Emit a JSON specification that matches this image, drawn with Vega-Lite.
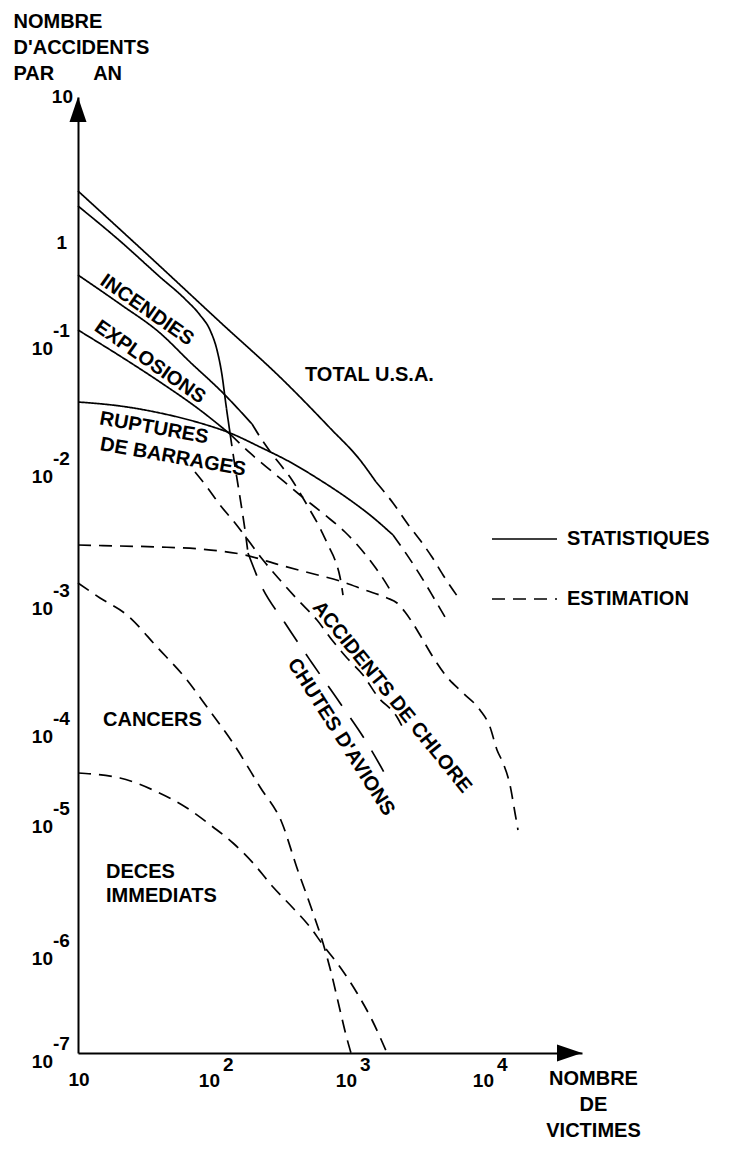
{
  "$schema": "https://vega.github.io/schema/vega-lite/v6.json",
  "width": 504,
  "height": 956,
  "autosize": {"type": "none"},
  "padding": {"left": 78, "top": 97, "right": 167, "bottom": 111},
  "background": "white",
  "config": {
    "view": {"stroke": null},
    "font": "Liberation Sans",
    "axis": {"labels": false, "ticks": false, "grid": false, "domainColor": "black", "domainWidth": 2,
      "titleFont": "Liberation Sans", "titleFontSize": 20, "titleFontWeight": "bold", "titleColor": "black", "titleLineHeight": 26}
  },
  "datasets": {
    "curves": [
      {"s":"TOTAL U.S.A.","t":"STATISTIQUES","n":10,"f":2.271},
      {"s":"TOTAL U.S.A.","t":"STATISTIQUES","n":33.54,"f":0.7173},
      {"s":"TOTAL U.S.A.","t":"STATISTIQUES","n":108.8,"f":0.1533},
      {"s":"TOTAL U.S.A.","t":"STATISTIQUES","n":313.6,"f":0.0487},
      {"s":"TOTAL U.S.A.","t":"STATISTIQUES","n":690.9,"f":0.02054},
      {"s":"TOTAL U.S.A.","t":"STATISTIQUES","n":1144,"f":0.01155},
      {"s":"TOTAL U.S.A.","t":"STATISTIQUES","n":1497,"f":0.007834},
      {"s":"TOTAL U.S.A.","t":"ESTIMATION","n":1497,"f":0.007834},
      {"s":"TOTAL U.S.A.","t":"ESTIMATION","n":1992,"f":0.005429},
      {"s":"TOTAL U.S.A.","t":"ESTIMATION","n":2521,"f":0.003831},
      {"s":"TOTAL U.S.A.","t":"ESTIMATION","n":3136,"f":0.002848},
      {"s":"TOTAL U.S.A.","t":"ESTIMATION","n":3836,"f":0.002117},
      {"s":"TOTAL U.S.A.","t":"ESTIMATION","n":4616,"f":0.001547},
      {"s":"TOTAL U.S.A.","t":"ESTIMATION","n":6142,"f":0.001},
      {"s":"CHUTES D'AVIONS","t":"STATISTIQUES","n":10,"f":1.792},
      {"s":"CHUTES D'AVIONS","t":"STATISTIQUES","n":20.26,"f":1.032},
      {"s":"CHUTES D'AVIONS","t":"STATISTIQUES","n":39.67,"f":0.4462},
      {"s":"CHUTES D'AVIONS","t":"STATISTIQUES","n":60.4,"f":0.2647},
      {"s":"CHUTES D'AVIONS","t":"STATISTIQUES","n":77.7,"f":0.181},
      {"s":"CHUTES D'AVIONS","t":"STATISTIQUES","n":91.93,"f":0.1268},
      {"s":"CHUTES D'AVIONS","t":"STATISTIQUES","n":103.4,"f":0.08352},
      {"s":"CHUTES D'AVIONS","t":"STATISTIQUES","n":112.5,"f":0.05328},
      {"s":"CHUTES D'AVIONS","t":"STATISTIQUES","n":120.3,"f":0.03106},
      {"s":"CHUTES D'AVIONS","t":"STATISTIQUES","n":128.7,"f":0.01877},
      {"s":"CHUTES D'AVIONS","t":"ESTIMATION","n":128.7,"f":0.01877},
      {"s":"CHUTES D'AVIONS","t":"ESTIMATION","n":137.6,"f":0.01155},
      {"s":"CHUTES D'AVIONS","t":"ESTIMATION","n":147.2,"f":0.007433},
      {"s":"CHUTES D'AVIONS","t":"ESTIMATION","n":157.4,"f":0.004805},
      {"s":"CHUTES D'AVIONS","t":"ESTIMATION","n":165.6,"f":0.003391},
      {"s":"CHUTES D'AVIONS","t":"ESTIMATION","n":174.1,"f":0.00227},
      {"s":"INCENDIES","t":"STATISTIQUES","n":10,"f":0.4677},
      {"s":"INCENDIES","t":"STATISTIQUES","n":20.26,"f":0.235},
      {"s":"INCENDIES","t":"STATISTIQUES","n":39.67,"f":0.1181},
      {"s":"INCENDIES","t":"STATISTIQUES","n":65.7,"f":0.06731},
      {"s":"INCENDIES","t":"STATISTIQUES","n":114.4,"f":0.03854},
      {"s":"INCENDIES","t":"STATISTIQUES","n":186.3,"f":0.02207},
      {"s":"INCENDIES","t":"ESTIMATION","n":186.3,"f":0.02207},
      {"s":"INCENDIES","t":"ESTIMATION","n":220.4,"f":0.01655},
      {"s":"INCENDIES","t":"ESTIMATION","n":260.7,"f":0.01286},
      {"s":"INCENDIES","t":"ESTIMATION","n":313.6,"f":0.01},
      {"s":"INCENDIES","t":"ESTIMATION","n":364.8,"f":0.008112},
      {"s":"INCENDIES","t":"ESTIMATION","n":417.2,"f":0.006465},
      {"s":"INCENDIES","t":"ESTIMATION","n":493.6,"f":0.004805},
      {"s":"INCENDIES","t":"ESTIMATION","n":584,"f":0.003511},
      {"s":"INCENDIES","t":"ESTIMATION","n":668.1,"f":0.00261},
      {"s":"INCENDIES","t":"ESTIMATION","n":751.5,"f":0.002009},
      {"s":"INCENDIES","t":"ESTIMATION","n":817.3,"f":0.001494},
      {"s":"INCENDIES","t":"ESTIMATION","n":859.6,"f":0.001091},
      {"s":"EXPLOSIONS","t":"STATISTIQUES","n":10,"f":0.1268},
      {"s":"EXPLOSIONS","t":"STATISTIQUES","n":20.26,"f":0.07499},
      {"s":"EXPLOSIONS","t":"STATISTIQUES","n":39.67,"f":0.04697},
      {"s":"EXPLOSIONS","t":"STATISTIQUES","n":77.7,"f":0.02838},
      {"s":"EXPLOSIONS","t":"STATISTIQUES","n":128.7,"f":0.01843},
      {"s":"EXPLOSIONS","t":"ESTIMATION","n":128.7,"f":0.01843},
      {"s":"EXPLOSIONS","t":"ESTIMATION","n":180.1,"f":0.0131},
      {"s":"EXPLOSIONS","t":"ESTIMATION","n":274.2,"f":0.009006},
      {"s":"EXPLOSIONS","t":"ESTIMATION","n":417.2,"f":0.006243},
      {"s":"EXPLOSIONS","t":"ESTIMATION","n":635.4,"f":0.004404},
      {"s":"EXPLOSIONS","t":"ESTIMATION","n":888.9,"f":0.003275},
      {"s":"EXPLOSIONS","t":"ESTIMATION","n":1144,"f":0.002476},
      {"s":"EXPLOSIONS","t":"ESTIMATION","n":1400,"f":0.001907},
      {"s":"EXPLOSIONS","t":"ESTIMATION","n":1656,"f":0.001494},
      {"s":"EXPLOSIONS","t":"ESTIMATION","n":1959,"f":0.00113},
      {"s":"RUPTURES DE BARRAGES","t":"STATISTIQUES","n":10,"f":0.03278},
      {"s":"RUPTURES DE BARRAGES","t":"STATISTIQUES","n":20.26,"f":0.03051},
      {"s":"RUPTURES DE BARRAGES","t":"STATISTIQUES","n":39.67,"f":0.0269},
      {"s":"RUPTURES DE BARRAGES","t":"STATISTIQUES","n":77.7,"f":0.02247},
      {"s":"RUPTURES DE BARRAGES","t":"STATISTIQUES","n":128.7,"f":0.01877},
      {"s":"RUPTURES DE BARRAGES","t":"STATISTIQUES","n":213.1,"f":0.01459},
      {"s":"RUPTURES DE BARRAGES","t":"STATISTIQUES","n":352.7,"f":0.01114},
      {"s":"RUPTURES DE BARRAGES","t":"STATISTIQUES","n":584,"f":0.008112},
      {"s":"RUPTURES DE BARRAGES","t":"STATISTIQUES","n":966.9,"f":0.005722},
      {"s":"RUPTURES DE BARRAGES","t":"STATISTIQUES","n":1353,"f":0.004404},
      {"s":"RUPTURES DE BARRAGES","t":"STATISTIQUES","n":1992,"f":0.003108},
      {"s":"RUPTURES DE BARRAGES","t":"ESTIMATION","n":1992,"f":0.003108},
      {"s":"RUPTURES DE BARRAGES","t":"ESTIMATION","n":2438,"f":0.00231},
      {"s":"RUPTURES DE BARRAGES","t":"ESTIMATION","n":2884,"f":0.001778},
      {"s":"RUPTURES DE BARRAGES","t":"ESTIMATION","n":3410,"f":0.001345},
      {"s":"RUPTURES DE BARRAGES","t":"ESTIMATION","n":4035,"f":0.001},
      {"s":"RUPTURES DE BARRAGES","t":"ESTIMATION","n":4774,"f":0.0007365},
      {"s":"CHUTES D'AVIONS (AU SOL)","t":"ESTIMATION","n":71.45,"f":0.009326},
      {"s":"CHUTES D'AVIONS (AU SOL)","t":"ESTIMATION","n":87.4,"f":0.007179},
      {"s":"CHUTES D'AVIONS (AU SOL)","t":"ESTIMATION","n":108.8,"f":0.005245},
      {"s":"CHUTES D'AVIONS (AU SOL)","t":"ESTIMATION","n":140,"f":0.003831},
      {"s":"CHUTES D'AVIONS (AU SOL)","t":"ESTIMATION","n":174.1,"f":0.002848},
      {"s":"CHUTES D'AVIONS (AU SOL)","t":"ESTIMATION","n":224.1,"f":0.002009},
      {"s":"CHUTES D'AVIONS (AU SOL)","t":"ESTIMATION","n":298.2,"f":0.001417},
      {"s":"CHUTES D'AVIONS (AU SOL)","t":"ESTIMATION","n":403.4,"f":0.001},
      {"s":"CHUTES D'AVIONS (AU SOL)","t":"ESTIMATION","n":555.3,"f":0.0006977},
      {"s":"CHUTES D'AVIONS (AU SOL)","t":"ESTIMATION","n":714.5,"f":0.000487},
      {"s":"CHUTES D'AVIONS (AU SOL)","t":"ESTIMATION","n":919.3,"f":0.0003523},
      {"s":"CHUTES D'AVIONS (AU SOL)","t":"ESTIMATION","n":1203,"f":0.0002595},
      {"s":"CHUTES D'AVIONS (AU SOL)","t":"ESTIMATION","n":1548,"f":0.0001747},
      {"s":"CHUTES D'AVIONS (AU SOL)","t":"ESTIMATION","n":2131,"f":0.0001219},
      {"s":"CHUTES D'AVIONS (AU SOL)","t":"ESTIMATION","n":2357,"f":0.0001},
      {"s":"ACCIDENTS DE CHLORE","t":"ESTIMATION","n":10,"f":0.00261},
      {"s":"ACCIDENTS DE CHLORE","t":"ESTIMATION","n":20.26,"f":0.002565},
      {"s":"ACCIDENTS DE CHLORE","t":"ESTIMATION","n":39.67,"f":0.002521},
      {"s":"ACCIDENTS DE CHLORE","t":"ESTIMATION","n":77.7,"f":0.002434},
      {"s":"ACCIDENTS DE CHLORE","t":"ESTIMATION","n":165.6,"f":0.002192},
      {"s":"ACCIDENTS DE CHLORE","t":"ESTIMATION","n":298.2,"f":0.001842},
      {"s":"ACCIDENTS DE CHLORE","t":"ESTIMATION","n":493.6,"f":0.001601},
      {"s":"ACCIDENTS DE CHLORE","t":"ESTIMATION","n":817.3,"f":0.001393},
      {"s":"ACCIDENTS DE CHLORE","t":"ESTIMATION","n":1244,"f":0.001191},
      {"s":"ACCIDENTS DE CHLORE","t":"ESTIMATION","n":1801,"f":0.001036},
      {"s":"ACCIDENTS DE CHLORE","t":"ESTIMATION","n":2131,"f":0.0009475},
      {"s":"ACCIDENTS DE CHLORE","t":"ESTIMATION","n":2438,"f":0.0008058},
      {"s":"ACCIDENTS DE CHLORE","t":"ESTIMATION","n":2742,"f":0.0006732},
      {"s":"ACCIDENTS DE CHLORE","t":"ESTIMATION","n":3136,"f":0.0005328},
      {"s":"ACCIDENTS DE CHLORE","t":"ESTIMATION","n":3901,"f":0.0003587},
      {"s":"ACCIDENTS DE CHLORE","t":"ESTIMATION","n":4936,"f":0.0002503},
      {"s":"ACCIDENTS DE CHLORE","t":"ESTIMATION","n":6459,"f":0.0001877},
      {"s":"ACCIDENTS DE CHLORE","t":"ESTIMATION","n":8597,"f":0.0001382},
      {"s":"ACCIDENTS DE CHLORE","t":"ESTIMATION","n":10170,"f":0.0001018},
      {"s":"ACCIDENTS DE CHLORE","t":"ESTIMATION","n":11440,"f":0.00005696},
      {"s":"ACCIDENTS DE CHLORE","t":"ESTIMATION","n":12660,"f":0.00004084},
      {"s":"ACCIDENTS DE CHLORE","t":"ESTIMATION","n":14230,"f":0.00002326},
      {"s":"ACCIDENTS DE CHLORE","t":"ESTIMATION","n":15480,"f":0.00001137},
      {"s":"ACCIDENTS DE CHLORE","t":"ESTIMATION","n":16280,"f":0.000008111},
      {"s":"CANCERS","t":"ESTIMATION","n":10,"f":0.001345},
      {"s":"CANCERS","t":"ESTIMATION","n":14.48,"f":0.001036},
      {"s":"CANCERS","t":"ESTIMATION","n":22.79,"f":0.0007634},
      {"s":"CANCERS","t":"ESTIMATION","n":37.72,"f":0.0004294},
      {"s":"CANCERS","t":"ESTIMATION","n":62.46,"f":0.0002371},
      {"s":"CANCERS","t":"ESTIMATION","n":87.4,"f":0.0001459},
      {"s":"CANCERS","t":"ESTIMATION","n":135.3,"f":0.00006813},
      {"s":"CANCERS","t":"ESTIMATION","n":213.1,"f":0.0000221},
      {"s":"CANCERS","t":"ESTIMATION","n":308.4,"f":0.000009165},
      {"s":"CANCERS","t":"ESTIMATION","n":396.7,"f":0.00000418},
      {"s":"CANCERS","t":"ESTIMATION","n":510.5,"f":0.000002009},
      {"s":"CANCERS","t":"ESTIMATION","n":614.1,"f":0.00000113},
      {"s":"CANCERS","t":"ESTIMATION","n":702.6,"f":6.113e-7},
      {"s":"CANCERS","t":"ESTIMATION","n":817.3,"f":2.615e-7},
      {"s":"CANCERS","t":"ESTIMATION","n":904,"f":1.495e-7},
      {"s":"CANCERS","t":"ESTIMATION","n":983.3,"f":1e-7},
      {"s":"DECES IMMEDIATS","t":"ESTIMATION","n":10,"f":3.162e-5},
      {"s":"DECES IMMEDIATS","t":"ESTIMATION","n":20.26,"f":2.783e-5},
      {"s":"DECES IMMEDIATS","t":"ESTIMATION","n":35.27,"f":2.047e-5},
      {"s":"DECES IMMEDIATS","t":"ESTIMATION","n":62.46,"f":1.291e-5},
      {"s":"DECES IMMEDIATS","t":"ESTIMATION","n":96.69,"f":8.548e-6},
      {"s":"DECES IMMEDIATS","t":"ESTIMATION","n":135.3,"f":6.465e-6},
      {"s":"DECES IMMEDIATS","t":"ESTIMATION","n":189.4,"f":4.562e-6},
      {"s":"DECES IMMEDIATS","t":"ESTIMATION","n":265.1,"f":3.001e-6},
      {"s":"DECES IMMEDIATS","t":"ESTIMATION","n":370.9,"f":2.08e-6},
      {"s":"DECES IMMEDIATS","t":"ESTIMATION","n":493.6,"f":1.494e-6},
      {"s":"DECES IMMEDIATS","t":"ESTIMATION","n":614.1,"f":1.091e-6},
      {"s":"DECES IMMEDIATS","t":"ESTIMATION","n":817.3,"f":6.839e-7},
      {"s":"DECES IMMEDIATS","t":"ESTIMATION","n":1088,"f":3.824e-7},
      {"s":"DECES IMMEDIATS","t":"ESTIMATION","n":1400,"f":2.091e-7},
      {"s":"DECES IMMEDIATS","t":"ESTIMATION","n":1801,"f":1e-7}
    ],
    "chutes": [
      {"s":"CHUTES D'AVIONS","t":"ESTIMATION","n":174.1,"f":0.00227},
      {"s":"CHUTES D'AVIONS","t":"ESTIMATION","n":213.1,"f":0.001345},
      {"s":"CHUTES D'AVIONS","t":"ESTIMATION","n":324.3,"f":0.0006612},
      {"s":"CHUTES D'AVIONS","t":"ESTIMATION","n":510.5,"f":0.000322},
      {"s":"CHUTES D'AVIONS","t":"ESTIMATION","n":817.3,"f":0.0001568},
      {"s":"CHUTES D'AVIONS","t":"ESTIMATION","n":1287,"f":0.00006813},
      {"s":"CHUTES D'AVIONS","t":"ESTIMATION","n":1894,"f":0.00002448}
    ],
    "notes": [
      {"label":"TOTAL U.S.A.","n":453.9,"f":0.05328},
      {"label":"CANCERS","n":15.22,"f":0.0001155},
      {"label":"DECES","n":16.01,"f":0.000003898},
      {"label":"IMMEDIATS","n":16.01,"f":0.000002565},
      {"label":"INCENDIES","n":31.89,"f":0.2038},
      {"label":"EXPLOSIONS","n":33.54,"f":0.06731},
      {"label":"RUPTURES","n":35.87,"f":0.02054},
      {"label":"DE BARRAGES","n":49.36,"f":0.01219},
      {"label":"ACCIDENTS DE CHLORE","n":1959,"f":0.0001747},
      {"label":"CHUTES D'AVIONS","n":831,"f":0.00007943}
    ],
    "yexp": [
      {"n":10,"f":1e-7,"exp":"-7"},{"n":10,"f":1e-6,"exp":"-6"},{"n":10,"f":1e-5,"exp":"-5"},{"n":10,"f":1e-4,"exp":"-4"},
      {"n":10,"f":1e-3,"exp":"-3"},{"n":10,"f":1e-2,"exp":"-2"},{"n":10,"f":1e-1,"exp":"-1"}
    ],
    "yplain": [{"n":10,"f":1,"t":"1"},{"n":10,"f":10,"t":"10"}],
    "xexp": [{"n":100,"f":1e-7,"exp":"2"},{"n":1000,"f":1e-7,"exp":"3"},{"n":10000,"f":1e-7,"exp":"4"}],
    "xplain": [{"n":10,"f":1e-7,"t":"10"}],
    "arrows": [{"dir":"up","n":10,"f":10},{"dir":"right","n":47730,"f":1e-7}]
  },
  "layer": [
    {
      "data": {"name": "curves"},
      "mark": {"type": "line", "color": "black", "strokeWidth": 1.7, "interpolate": "monotone"},
      "encoding": {
        "x": {"field": "n", "type": "quantitative",
          "scale": {"type": "log", "domain": [10, 47730], "nice": false},
          "axis": {"title": ["NOMBRE", "DE", "VICTIMES"], "titleAngle": 0, "titleAlign": "center", "titleBaseline": "top",
            "titleX": 515, "titleY": 15}},
        "y": {"field": "f", "type": "quantitative",
          "scale": {"type": "log", "domain": [1e-7, 1e-6, 1e-5, 1e-4, 1e-3, 1e-2, 1e-1, 1, 10],
            "range": [956, 853, 721, 631, 503, 371, 243, 146, 0], "nice": false},
          "axis": {"title": ["NOMBRE", "D'ACCIDENTS", "PAR\u00a0\u00a0\u00a0\u00a0\u00a0\u00a0\u00a0AN"], "titleAngle": 0, "titleAlign": "left",
            "titleBaseline": "top", "titleX": -65, "titleY": -86}},
        "detail": {"field": "s"},
        "strokeDash": {"field": "t", "type": "nominal",
          "scale": {"domain": ["STATISTIQUES", "ESTIMATION"], "range": [[1, 0], [13, 8]]},
          "legend": {"orient": "none", "legendX": 413, "legendY": 432, "title": null, "symbolType": "stroke",
            "symbolSize": 4225, "symbolStrokeWidth": 1.7, "symbolStrokeColor": "black", "labelFont": "Liberation Sans",
            "labelFontSize": 20, "labelFontWeight": "bold", "labelColor": "black", "labelOffset": 9,
            "rowPadding": 40, "clipHeight": 20, "padding": 0}}
      }
    },
    {
      "data": {"name": "chutes"},
      "mark": {"type": "line", "color": "black", "strokeWidth": 1.7, "strokeDash": [24, 15], "interpolate": "monotone"},
      "encoding": {
        "x": {"field": "n", "type": "quantitative"},
        "y": {"field": "f", "type": "quantitative"}
      }
    },
    {
      "data": {"name": "arrows"},
      "transform": [{"filter": "datum.dir == 'up'"}],
      "mark": {"type": "point", "shape": "M0,0L0.68,2L-0.68,2Z", "size": 625, "filled": true, "color": "black", "opacity": 1, "strokeWidth": 0},
      "encoding": {
        "x": {"field": "n", "type": "quantitative"},
        "y": {"field": "f", "type": "quantitative"}
      }
    },
    {
      "data": {"name": "arrows"},
      "transform": [{"filter": "datum.dir == 'right'"}],
      "mark": {"type": "point", "shape": "M0,0L-2,-0.68L-2,0.68Z", "size": 625, "filled": true, "color": "black", "opacity": 1, "strokeWidth": 0},
      "encoding": {
        "x": {"field": "n", "type": "quantitative"},
        "y": {"field": "f", "type": "quantitative"}
      }
    },
    {
      "data": {"name": "yexp"},
      "mark": {"type": "text", "align": "right", "baseline": "middle", "dx": -25, "dy": 9, "font": "Liberation Sans", "fontSize": 19, "fontWeight": "bold", "color": "black"},
      "encoding": {
        "x": {"field": "n", "type": "quantitative"},
        "y": {"field": "f", "type": "quantitative"},
        "text": {"value": "10"}
      }
    },
    {
      "data": {"name": "yexp"},
      "mark": {"type": "text", "align": "left", "baseline": "middle", "dx": -25, "dy": -9, "font": "Liberation Sans", "fontSize": 19, "fontWeight": "bold", "color": "black"},
      "encoding": {
        "x": {"field": "n", "type": "quantitative"},
        "y": {"field": "f", "type": "quantitative"},
        "text": {"field": "exp"}
      }
    },
    {
      "data": {"name": "yplain"},
      "transform": [{"filter": "datum.f == 1"}],
      "mark": {"type": "text", "align": "right", "baseline": "middle", "dx": -11, "font": "Liberation Sans", "fontSize": 19, "fontWeight": "bold", "color": "black"},
      "encoding": {
        "x": {"field": "n", "type": "quantitative"},
        "y": {"field": "f", "type": "quantitative"},
        "text": {"field": "t"}
      }
    },
    {
      "data": {"name": "yplain"},
      "transform": [{"filter": "datum.f == 10"}],
      "mark": {"type": "text", "align": "right", "baseline": "middle", "dx": -5, "font": "Liberation Sans", "fontSize": 19, "fontWeight": "bold", "color": "black"},
      "encoding": {
        "x": {"field": "n", "type": "quantitative"},
        "y": {"field": "f", "type": "quantitative"},
        "text": {"field": "t"}
      }
    },
    {
      "data": {"name": "xplain"},
      "mark": {"type": "text", "align": "center", "baseline": "middle", "dx": 1, "dy": 27, "font": "Liberation Sans", "fontSize": 19, "fontWeight": "bold", "color": "black"},
      "encoding": {
        "x": {"field": "n", "type": "quantitative"},
        "y": {"field": "f", "type": "quantitative"},
        "text": {"field": "t"}
      }
    },
    {
      "data": {"name": "xexp"},
      "mark": {"type": "text", "align": "right", "baseline": "middle", "dx": 5, "dy": 28, "font": "Liberation Sans", "fontSize": 19, "fontWeight": "bold", "color": "black"},
      "encoding": {
        "x": {"field": "n", "type": "quantitative"},
        "y": {"field": "f", "type": "quantitative"},
        "text": {"value": "10"}
      }
    },
    {
      "data": {"name": "xexp"},
      "mark": {"type": "text", "align": "left", "baseline": "middle", "dx": 8, "dy": 12, "font": "Liberation Sans", "fontSize": 19, "fontWeight": "bold", "color": "black"},
      "encoding": {
        "x": {"field": "n", "type": "quantitative"},
        "y": {"field": "f", "type": "quantitative"},
        "text": {"field": "exp"}
      }
    },
    {
      "data": {"name": "notes"},
      "transform": [{"filter": {"field": "label", "oneOf": ["TOTAL U.S.A.", "CANCERS", "DECES", "IMMEDIATS"]}}],
      "mark": {"type": "text", "align": "left", "baseline": "middle", "font": "Liberation Sans", "fontSize": 20, "fontWeight": "bold", "color": "black"},
      "encoding": {
        "x": {"field": "n", "type": "quantitative"},
        "y": {"field": "f", "type": "quantitative"},
        "text": {"field": "label"}
      }
    },
    {
      "data": {"name": "notes"},
      "transform": [{"filter": {"field": "label", "oneOf": ["INCENDIES", "EXPLOSIONS"]}}],
      "mark": {"type": "text", "align": "center", "baseline": "middle", "angle": 35, "font": "Liberation Sans", "fontSize": 20, "fontWeight": "bold", "color": "black"},
      "encoding": {
        "x": {"field": "n", "type": "quantitative"},
        "y": {"field": "f", "type": "quantitative"},
        "text": {"field": "label"}
      }
    },
    {
      "data": {"name": "notes"},
      "transform": [{"filter": {"field": "label", "oneOf": ["RUPTURES", "DE BARRAGES"]}}],
      "mark": {"type": "text", "align": "center", "baseline": "middle", "angle": 10, "font": "Liberation Sans", "fontSize": 20, "fontWeight": "bold", "color": "black"},
      "encoding": {
        "x": {"field": "n", "type": "quantitative"},
        "y": {"field": "f", "type": "quantitative"},
        "text": {"field": "label"}
      }
    },
    {
      "data": {"name": "notes"},
      "transform": [{"filter": {"field": "label", "equal": "ACCIDENTS DE CHLORE"}}],
      "mark": {"type": "text", "align": "center", "baseline": "middle", "angle": 51, "font": "Liberation Sans", "fontSize": 20, "fontWeight": "bold", "color": "black"},
      "encoding": {
        "x": {"field": "n", "type": "quantitative"},
        "y": {"field": "f", "type": "quantitative"},
        "text": {"field": "label"}
      }
    },
    {
      "data": {"name": "notes"},
      "transform": [{"filter": {"field": "label", "equal": "CHUTES D'AVIONS"}}],
      "mark": {"type": "text", "align": "center", "baseline": "middle", "angle": 57.5, "font": "Liberation Sans", "fontSize": 20, "fontWeight": "bold", "color": "black"},
      "encoding": {
        "x": {"field": "n", "type": "quantitative"},
        "y": {"field": "f", "type": "quantitative"},
        "text": {"field": "label"}
      }
    }
  ]
}
